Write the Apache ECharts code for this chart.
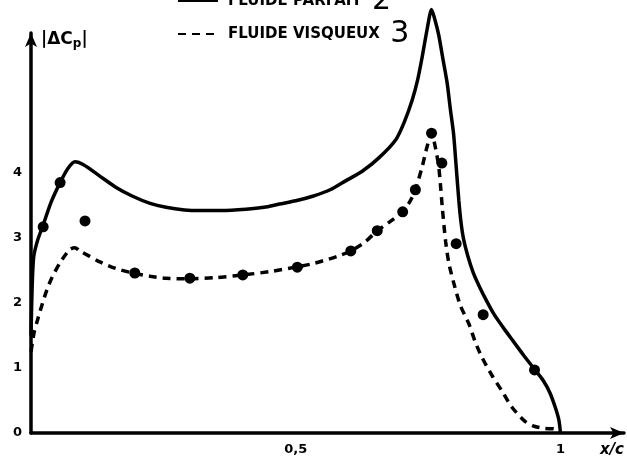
<!DOCTYPE html>
<html>
<head>
<meta charset="utf-8">
<script src="https://cdn.jsdelivr.net/npm/echarts@6/dist/echarts.min.js"></script>
<style>
  html, body { margin: 0; padding: 0; background: #fff; }
  #chart { width: 627px; height: 463px; }
</style>
</head>
<body>
<div id="chart"></div>
<script>
// courbe théorique, fluide parfait (trait plein)
const parfait = [
  [0, 1.5], [0.002, 2.2], [0.005, 2.7], [0.012, 2.95], [0.023, 3.2], [0.038, 3.55],
  [0.055, 3.85], [0.07, 4.07], [0.083, 4.17], [0.1, 4.12], [0.13, 3.95], [0.16, 3.78],
  [0.192, 3.64], [0.225, 3.53], [0.255, 3.47], [0.29, 3.43], [0.318, 3.42], [0.36, 3.42],
  [0.406, 3.44], [0.44, 3.47], [0.469, 3.52], [0.5, 3.57], [0.532, 3.64], [0.565, 3.74],
  [0.595, 3.88], [0.625, 4.02], [0.657, 4.23], [0.689, 4.51], [0.705, 4.78], [0.72, 5.12],
  [0.73, 5.42], [0.739, 5.79], [0.748, 6.2], [0.7565, 6.51], [0.763, 6.35], [0.77, 6.12],
  [0.778, 5.75], [0.786, 5.38], [0.792, 4.98], [0.798, 4.61], [0.803, 4.1], [0.808, 3.58],
  [0.812, 3.25], [0.817, 2.98], [0.825, 2.72], [0.835, 2.47], [0.847, 2.25], [0.86, 2.04],
  [0.875, 1.82], [0.892, 1.62], [0.91, 1.42], [0.93, 1.2], [0.952, 0.97], [0.968, 0.8],
  [0.98, 0.62], [0.99, 0.4], [0.997, 0.2], [1.0, 0]
];

// courbe fluide visqueux (tirets)
const visqueux = [
  [0, 1.25], [0.006, 1.55], [0.011, 1.7], [0.02, 1.95], [0.03, 2.2], [0.039, 2.38],
  [0.055, 2.62], [0.073, 2.82], [0.083, 2.85], [0.092, 2.8], [0.11, 2.72], [0.13, 2.63],
  [0.16, 2.53], [0.192, 2.46], [0.225, 2.41], [0.255, 2.38], [0.3, 2.37], [0.35, 2.39],
  [0.4, 2.43], [0.45, 2.48], [0.5, 2.55], [0.53, 2.6], [0.557, 2.66], [0.58, 2.72],
  [0.604, 2.8], [0.63, 2.93], [0.654, 3.11], [0.68, 3.26], [0.701, 3.4], [0.715, 3.55],
  [0.726, 3.74], [0.739, 4.1], [0.748, 4.4], [0.7565, 4.61], [0.763, 4.42], [0.77, 4.1],
  [0.774, 3.75], [0.777, 3.45], [0.783, 2.95], [0.789, 2.62], [0.798, 2.32], [0.811, 1.96],
  [0.827, 1.68], [0.839, 1.4], [0.852, 1.16], [0.871, 0.88], [0.89, 0.64], [0.908, 0.4],
  [0.933, 0.18], [0.952, 0.1], [0.971, 0.07], [0.99, 0.06], [1.0, 0]
];

// points expérimentaux
const experiences = [
  [0.023, 3.17], [0.055, 3.85], [0.102, 3.26], [0.196, 2.46], [0.3, 2.38], [0.4, 2.43],
  [0.503, 2.55], [0.604, 2.8], [0.654, 3.11], [0.702, 3.4], [0.726, 3.74], [0.7565, 4.61],
  [0.776, 4.15], [0.803, 2.91], [0.854, 1.82], [0.951, 0.97]
];

const yTicks = [0, 1, 2, 3, 4];
const xTickLabels = { '0.5': '0,5', '1': '1' };
const legendDigits = { 'FLUIDE PARFAIT': '2', 'FLUIDE VISQUEUX': '3' };

const chart = echarts.init(document.getElementById('chart'));

const font = 'DejaVu Sans';
const legendBase = {
  left: 172,
  itemWidth: 40,
  itemHeight: 14,
  itemStyle: { opacity: 0 },
  formatter: (name) => name + '  {n|' + legendDigits[name] + '}',
  textStyle: {
    fontFamily: font,
    fontWeight: 'bold',
    fontSize: 15,
    color: '#000',
    padding: [0, 0, 0, 5],
    rich: {
      n: { fontFamily: font, fontSize: 30, fontWeight: 'normal', color: '#000' }
    }
  }
};

chart.setOption({
  backgroundColor: '#fff',
  animation: false,
  legend: [
    Object.assign({}, legendBase, { data: ['FLUIDE PARFAIT'], top: -19 }),
    Object.assign({}, legendBase, { data: ['FLUIDE VISQUEUX'], top: 14 })
  ],
  grid: { left: 31, right: 1, top: 33, bottom: 30 },
  xAxis: {
    type: 'value',
    min: 0,
    max: 1.12,
    interval: 0.5,
    name: 'x/c',
    nameLocation: 'end',
    nameGap: 0,
    nameTextStyle: {
      fontFamily: font, fontWeight: 'bold', fontStyle: 'italic', fontSize: 15,
      color: '#000', align: 'right', verticalAlign: 'top', padding: [10, 0, 0, 0]
    },
    axisLine: {
      lineStyle: { color: '#000', width: 3.5 },
      symbol: ['none', 'arrow'],
      symbolSize: [9, 14]
    },
    axisTick: { show: false },
    splitLine: { show: false },
    axisLabel: {
      margin: 10,
      fontFamily: font, fontWeight: 'bold', fontSize: 13, color: '#000',
      formatter: (v) => xTickLabels[String(v)] || ''
    }
  },
  yAxis: {
    type: 'value',
    min: 0,
    max: 6.15,
    interval: 1,
    name: '|ΔC{p|p}|',
    nameLocation: 'end',
    nameGap: 3,
    nameTextStyle: {
      fontFamily: font, fontWeight: 'bold', fontSize: 17, color: '#000',
      align: 'left', verticalAlign: 'top', padding: [0, 0, 0, 10],
      rich: { p: { fontFamily: font, fontWeight: 'bold', fontSize: 12, color: '#000', padding: [8, 0, 0, 0] } }
    },
    axisLine: {
      show: true,
      lineStyle: { color: '#000', width: 3.5 },
      symbol: ['none', 'arrow'],
      symbolSize: [9, 14]
    },
    axisTick: { show: false },
    splitLine: { show: false },
    axisLabel: {
      margin: 9,
      fontFamily: font, fontWeight: 'bold', fontSize: 13, color: '#000',
      formatter: (v) => (yTicks.indexOf(v) >= 0 ? String(v) : '')
    }
  },
  series: [
    {
      name: 'FLUIDE PARFAIT',
      type: 'line',
      data: parfait,
      smooth: 0.25,
      symbol: 'none',
      clip: false,
      lineStyle: { color: '#000', width: 3.5 },
      itemStyle: { color: '#000' }
    },
    {
      name: 'FLUIDE VISQUEUX',
      type: 'line',
      data: visqueux,
      smooth: 0.25,
      symbol: 'none',
      clip: false,
      lineStyle: { color: '#000', width: 3.5, type: [8, 6] },
      itemStyle: { color: '#000' }
    },
    {
      name: 'experiences',
      type: 'scatter',
      data: experiences,
      symbol: 'circle',
      symbolSize: 11,
      z: 5,
      itemStyle: { color: '#000', opacity: 1 }
    }
  ]
});
</script>
</body>
</html>
